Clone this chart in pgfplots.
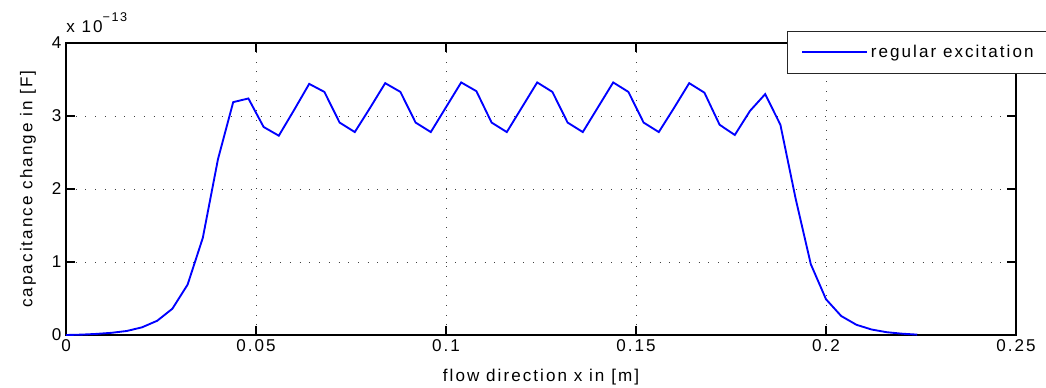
\documentclass[border=0pt]{standalone}
\usepackage{pgfplots}
\pgfplotsset{compat=1.18}
\usepackage{fontspec}
\setmainfont[LetterSpace=12]{Liberation Sans}
\usetikzlibrary{calc}
\pgfplotstableread{
x y
0.000 0.000
0.004 0.005
0.008 0.015
0.012 0.030
0.016 0.055
0.020 0.105
0.024 0.195
0.028 0.360
0.032 0.690
0.036 1.330
0.040 2.410
0.044 3.190
0.048 3.240
0.052 2.850
0.056 2.730
0.060 3.080
0.064 3.440
0.068 3.330
0.072 2.910
0.076 2.780
0.080 3.110
0.084 3.450
0.088 3.330
0.092 2.910
0.096 2.780
0.100 3.120
0.104 3.460
0.108 3.340
0.112 2.910
0.116 2.780
0.120 3.120
0.124 3.460
0.128 3.330
0.132 2.910
0.136 2.780
0.140 3.120
0.144 3.460
0.148 3.330
0.152 2.910
0.156 2.780
0.160 3.110
0.164 3.450
0.168 3.320
0.172 2.880
0.176 2.740
0.180 3.070
0.184 3.300
0.188 2.880
0.192 1.870
0.196 0.970
0.200 0.490
0.204 0.260
0.208 0.140
0.212 0.075
0.216 0.038
0.220 0.018
0.224 0.005
}\datatable
\definecolor{mblue}{RGB}{0,0,255}
\begin{document}
\begin{tikzpicture}[font=\fontsize{12.8}{15}\selectfont]
\begin{axis}[
  scale only axis, width=712.5pt, height=219pt,
  xmin=0, xmax=0.25, ymin=0, ymax=4,
  clip=false,
  xtick={0,0.05,0.1,0.15,0.2,0.25},
  xticklabels={0,0.05,0.1,0.15,0.2,0.25},
  ytick={0,1,2,3,4},
  yticklabels={0,1,2,3,4},
  /pgf/number format/assume math mode=true,
  tick align=inside, tick pos=both,
  major tick length=6.75pt,
  every tick/.style={black, line width=1pt},
  axis line style={line width=1pt},
  grid=major,
  major grid style={black!75, line width=0.6pt, dash pattern=on 0.7pt off 6.6pt},
  xlabel={flow direction x in [m]},
  ylabel={capacitance change in [F]},
  xlabel style={at={(axis description cs:0.5,0)}, anchor=center, yshift=-31.5pt},
  ylabel style={at={(axis description cs:-0.04,0.5)}, anchor=center},
  legend style={at={(axis description cs:0.759,1.041)}, anchor=north west,
    draw=black!85, fill=white, inner xsep=10.5pt, inner ysep=8.4pt},
  legend cell align=left,
  legend image code/.code={\pgfsetlinewidth{1.4pt}\draw[mblue, line width=1.4pt] (0pt,0pt) -- (48.75pt,0pt);},
]
\addplot[color=mblue, line width=1.4pt] table[x=x,y=y] {\datatable};
\addlegendentry{\makebox[170pt][l]{regular excitation}}
\node[anchor=base west, inner sep=0pt] at (rel axis cs:0,1) [yshift=8.25pt] {x 10\raisebox{8.2pt}{\fontsize{9.5}{10}\selectfont −13}};
\end{axis}
\pgfresetboundingbox
\path ($(current axis.south west)+(-49.5pt,-39.75pt)$) rectangle ($(current axis.north east)+(22.5pt,32.25pt)$);
\end{tikzpicture}
\end{document}
